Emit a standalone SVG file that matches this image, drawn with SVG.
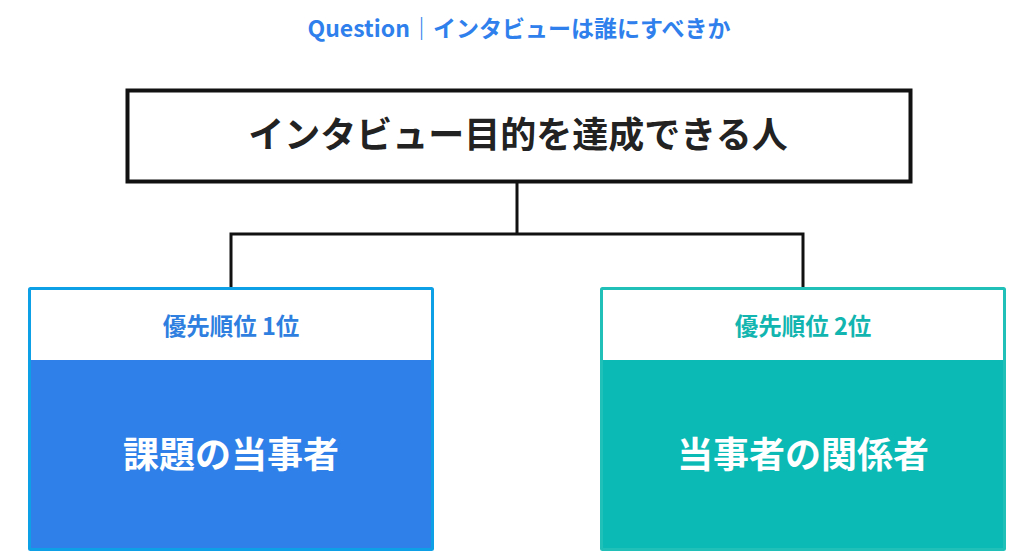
<svg xmlns="http://www.w3.org/2000/svg" width="1024" height="560" viewBox="0 0 1024 560">
<style>
text{font-family:"Noto Sans CJK JP","Noto Sans",sans-serif;font-weight:bold;text-anchor:middle}
.title{font-size:23px;fill:#2F80ED}
.main{font-size:36px;fill:#222222}
.lbl{font-size:23.5px}
.big{font-size:36px;fill:#ffffff}
.conn{fill:none;stroke:#111111;stroke-width:3}
</style>
<rect width="1024" height="560" fill="#ffffff"/>
<text class="title" x="519" y="37">Question｜インタビューは誰にすべきか</text>
<g id="connectors">
<path class="conn" d="M517,182 V234 M231,234 H803 M231,232.5 V288 M803,232.5 V288"/>
</g>
<g id="top">
<rect x="127.5" y="90.5" width="783" height="91" fill="#ffffff" stroke="#111111" stroke-width="4"/>
<text class="main" x="518" y="148">インタビュー目的を達成できる人</text>
</g>
<g id="left">
<rect x="29.5" y="288.5" width="403" height="261" fill="#2F80E8" stroke="#0EA0E6" stroke-width="3" rx="1"/>
<rect x="31" y="290" width="400" height="70" fill="#ffffff"/>
<text class="lbl" x="231" y="335" fill="#2F7FE0">優先順位 1位</text>
<text class="big" x="231" y="468">課題の当事者</text>
</g>
<g id="right">
<rect x="601.5" y="288.5" width="403" height="261" fill="#0BBAB5" stroke="#20C0B9" stroke-width="3" rx="1"/>
<rect x="603" y="290" width="400" height="70" fill="#ffffff"/>
<text class="lbl" x="803" y="335" fill="#12B5AF">優先順位 2位</text>
<text class="big" x="803" y="468">当事者の関係者</text>
</g>
</svg>
